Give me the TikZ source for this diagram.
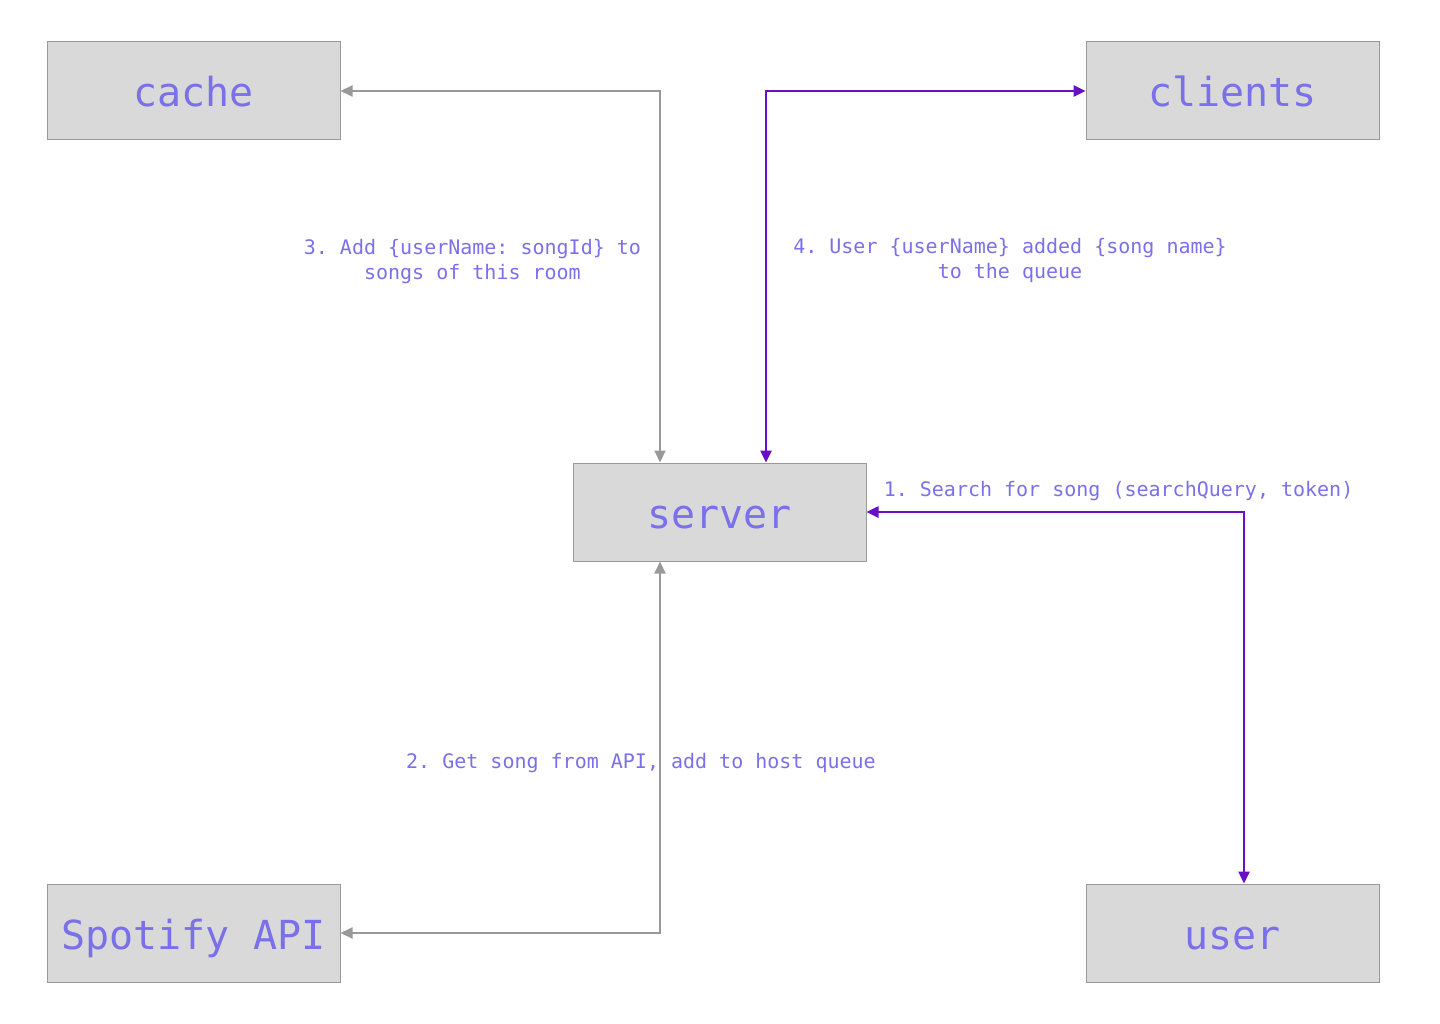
\documentclass[tikz,border=0pt]{standalone}
\usepackage{fontspec}
\setmonofont{DejaVu Sans Mono}
\usepackage{tikz}
\usetikzlibrary{arrows.meta,positioning,calc}
\definecolor{boxgray}{RGB}{217,217,217}
\definecolor{edgegray}{RGB}{153,153,153}
\definecolor{labelblue}{RGB}{122,112,234}
\definecolor{flowpurple}{RGB}{106,14,200}

\begin{document}
\begin{tikzpicture}[
  x=1pt, y=-1pt,
  font=\ttfamily\fontsize{20}{25}\selectfont,
  box/.style={draw=edgegray, line width=1pt, fill=boxgray, minimum width=293pt, minimum height=98pt, inner sep=0pt, text height=32pt, text depth=0pt, text=labelblue, font=\ttfamily\fontsize{40}{48}\selectfont},
  lbl/.style={text=labelblue, align=center, inner sep=0pt},
  grayarr/.style={{Triangle[length=12pt,width=11pt]}-{Triangle[length=12pt,width=11pt]}, draw=edgegray, line width=2pt},
  purplearr/.style={{Triangle[length=12pt,width=11pt]}-{Triangle[length=12pt,width=11pt]}, draw=flowpurple, line width=2.5pt}
]
\useasboundingbox (0,0) rectangle (1440,1024);

\node[box] (cache) at (193.5,91) {cache};
\node[box] (clients) at (1232.5,91) {clients};
\node[box] (server) at (719.5,512) {server};
\node[box] (spotify) at (193.5,933) {Spotify API};
\node[box] (user) at (1232.5,933) {user};

\draw[grayarr] (cache.east) -| ([xshift=-59.5pt]server.north)
  node[lbl, left, pos=0.73, xshift=-18pt] {3. Add \{userName: songId\} to\\songs of this room};
\draw[purplearr] ([xshift=46.5pt]server.north) |- (clients.west)
  node[lbl, right, pos=0.272, xshift=26pt] {4. User \{userName\} added \{song name\}\\to the queue};
\draw[purplearr] (server.east) -| ([xshift=11.5pt]user.north)
  node[lbl, anchor=west, pos=0, xshift=16pt, yshift=21pt] {1. Search for song (searchQuery, token)};
\draw[grayarr] (spotify.east) -| ([xshift=-59.5pt]server.south)
  node[lbl, pos=0.729, xshift=-19pt] {2. Get song from API, add to host queue};
\end{tikzpicture}
\end{document}
